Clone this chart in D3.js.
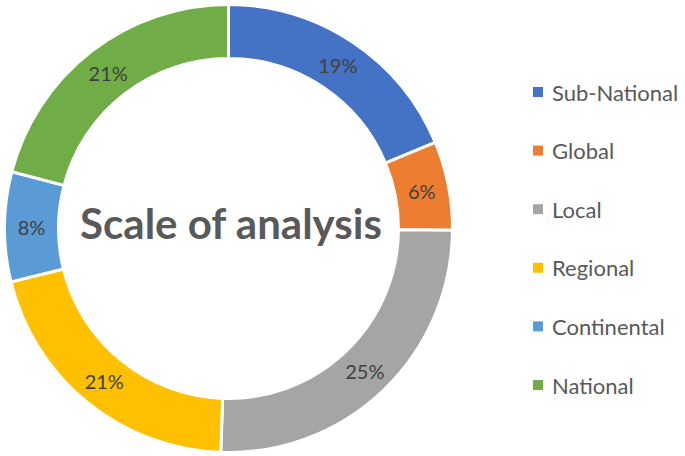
<!DOCTYPE html>
<html><head><meta charset="utf-8">
<script src="https://cdn.jsdelivr.net/npm/d3@7"></script>
<style>html,body{margin:0;padding:0;background:#fff;} svg{display:block;}</style>
</head><body>
<svg id="chart" width="685" height="456"></svg>
<script>
const categories = ["Sub-National", "Global", "Local", "Regional", "Continental", "National"];
const values = [18.7, 6.4, 25.4, 20.6, 7.9, 20.9];
const colors = ["#4472C4", "#ED7D31", "#A5A5A5", "#FFC000", "#5B9BD5", "#70AD47"];
const title = "Scale of analysis";

const svg = d3.select("#chart");
const cx = 228.5, cy = 228.5, rOuter = 224, rInner = 170;
const total = d3.sum(values);
const data = categories.map((c, i) => ({cat: c, value: values[i], color: colors[i]}));

const pie = d3.pie().value(d => d.value).sort(null);
const arc = d3.arc().innerRadius(rInner).outerRadius(rOuter);
const g = svg.append("g").attr("transform", `translate(${cx},${cy})`);
const arcs = pie(data);
g.selectAll("path").data(arcs).join("path")
  .attr("d", arc).attr("fill", d => d.data.color)
  .attr("stroke", "#fff").attr("stroke-width", 3).attr("stroke-linejoin", "miter");

const font = "Lato, 'Open Sans', sans-serif";
g.selectAll("text.lbl").data(arcs).join("text").attr("class", "lbl")
  .attr("transform", d => `translate(${arc.centroid(d)})`)
  .attr("text-anchor", "middle").attr("dominant-baseline", "central")
  .attr("font-family", font).attr("font-size", 20).attr("fill", "#404040")
  .text(d => Math.round(d.data.value / total * 100) + "%");

// center title, fit to measured width
const t = svg.append("text").attr("x", 231).attr("y", 239)
  .attr("text-anchor", "middle").attr("font-family", font).attr("font-weight", "bold")
  .attr("font-size", 40).attr("fill", "#595959").text(title);
const tw = t.node().getComputedTextLength();
t.attr("font-size", 40 * 302 / tw);

// legend
const leg = svg.append("g");
const rowY = d3.scalePoint().domain(categories).range([92, 385]);
const items = leg.selectAll("g").data(data).join("g")
  .attr("transform", d => `translate(533,${rowY(d.cat)})`);
items.append("rect").attr("x", 0).attr("y", -5).attr("width", 10).attr("height", 10)
  .attr("fill", d => d.color);
const lt = items.append("text").attr("x", 19).attr("y", 0).attr("dominant-baseline", "central")
  .attr("font-family", font).attr("font-size", 20).attr("fill", "#595959").text(d => d.cat);
const w0 = lt.filter(d => d.cat === "Sub-National").node().getComputedTextLength();
lt.attr("font-size", Math.min(22, 20 * 132 / w0));
</script>
</body></html>
